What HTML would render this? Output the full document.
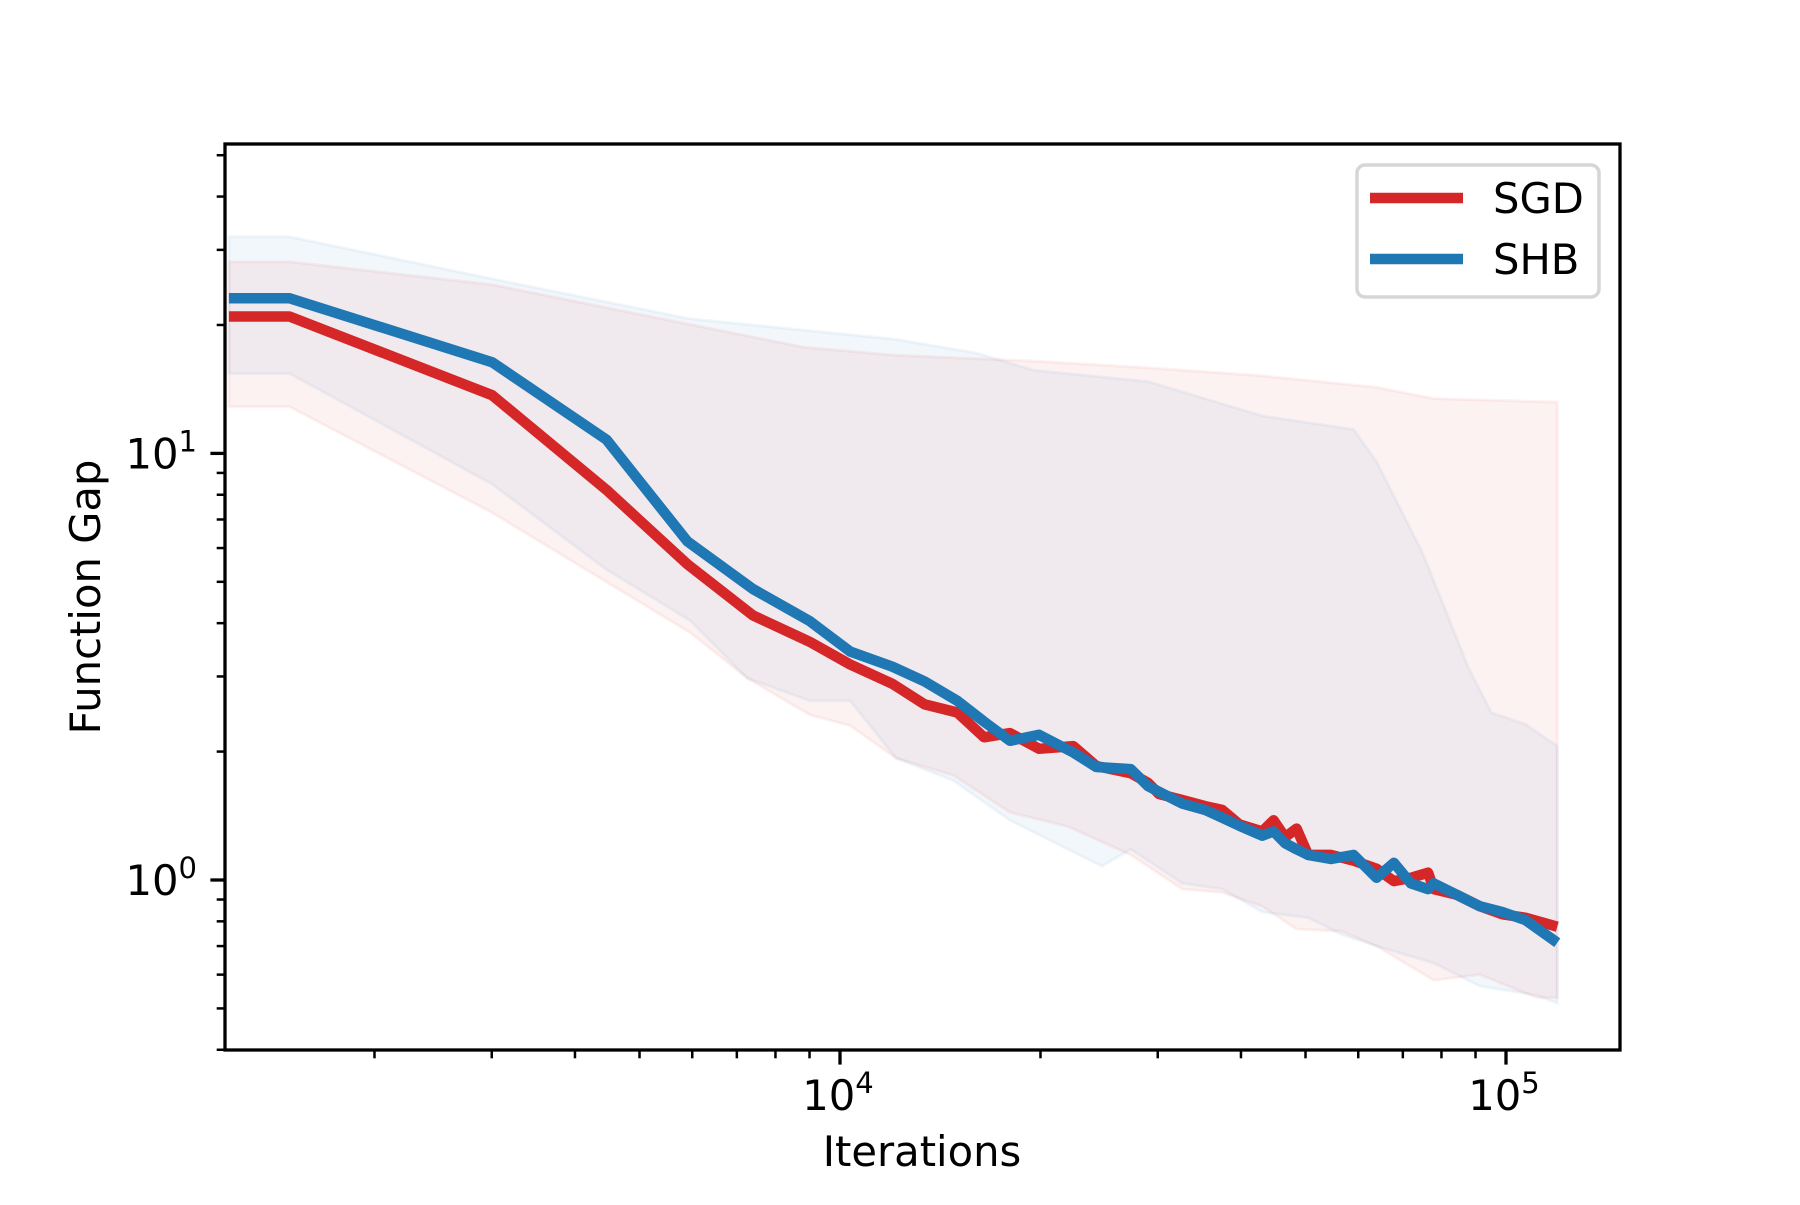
<!DOCTYPE html>
<html><head><meta charset="utf-8"><style>
html,body{margin:0;padding:0;background:#fff}
svg text{font-family:"DejaVu Sans","Liberation Sans",sans-serif;fill:#000}
</style></head><body>
<svg id="chart" width="1800" height="1200" viewBox="0 0 1800 1200" xmlns="http://www.w3.org/2000/svg">
<rect width="1800" height="1200" fill="#fff"/>
<defs><clipPath id="clip"><rect x="225" y="144" width="1395" height="906"/></clipPath></defs>
<g id="bands" clip-path="url(#clip)"></g>
<g id="lines" clip-path="url(#clip)"></g>
<g id="axes"></g>
<text x="922" y="1166" font-size="41.7" text-anchor="middle">Iterations</text>
<text transform="translate(100,597) rotate(-90)" font-size="41.7" text-anchor="middle">Function Gap</text>
<g>
<rect x="1357" y="165" width="242" height="132" rx="8" fill="#fff" fill-opacity="0.8" stroke="#d6d6d6" stroke-width="3.5"/>
<line x1="1370" y1="198" x2="1463" y2="198" stroke="#d62728" stroke-width="10.5"/>
<text x="1493" y="213" font-size="41.7">SGD</text>
<line x1="1370" y1="259" x2="1463" y2="259" stroke="#1f77b4" stroke-width="10.5"/>
<text x="1493" y="274" font-size="41.7">SHB</text>
</g>
</svg>
<script>
const iters = [1209,1491,3004,4461,5900,7400,9000,10360,12000,13400,15000,16460,18000,19900,22400,24260,27320,29000,30140,32650,35320,37490,39790,43050,44780,46590,48480,50450,54600,59050,63900,67860,71980,76380,77900,84370,91300,98800,106900,119400];
const sgdGap = [20.94,20.94,13.69,8.21,5.50,4.17,3.62,3.20,2.88,2.58,2.47,2.16,2.21,2.03,2.06,1.85,1.78,1.69,1.59,1.54,1.49,1.46,1.35,1.30,1.38,1.26,1.32,1.145,1.145,1.11,1.063,0.994,1.012,1.04,0.952,0.923,0.868,0.831,0.816,0.777];
const shbGap = [23.1,23.1,16.36,10.77,6.22,4.81,4.05,3.43,3.16,2.92,2.63,2.35,2.12,2.19,1.99,1.84,1.82,1.66,1.61,1.51,1.46,1.40,1.34,1.27,1.30,1.22,1.18,1.145,1.12,1.145,1.012,1.097,0.982,0.952,0.982,0.923,0.868,0.841,0.806,0.713];
const sgdUpX = [1209,1491,3004,5960,8846,12140,19500,29000,43050,63900,77900,119400];
const sgdUpY = [28.13,28.13,24.87,20.05,17.73,16.98,16.47,15.87,15.20,14.29,13.44,13.19];
const sgdLoX = [1209,1491,3004,5960,7260,9000,10360,12140,14790,18000,21980,27320,32650,37490,43050,48480,56750,63900,77900,91300,111200,119400];
const sgdLoY = [12.87,12.87,7.26,3.80,2.97,2.44,2.30,1.93,1.76,1.44,1.335,1.145,0.952,0.935,0.868,0.767,0.758,0.70,0.582,0.600,0.530,0.530];
const shbUpX = [1209,1491,3004,5960,8846,12140,16020,19500,29000,43050,59050,63900,69180,74930,81100,87720,95000,106900,119400];
const shbUpY = [32.2,32.2,25.66,20.68,19.45,18.51,17.19,15.68,14.74,12.25,11.38,9.58,7.49,5.85,4.30,3.16,2.47,2.32,2.06];
const shbLoX = [1209,1491,3004,4461,5960,7260,9000,10360,12140,14790,18000,21980,24750,27320,32650,37490,43050,50450,56750,63900,77900,91300,111200,119400];
const shbLoY = [15.39,15.39,8.47,5.34,4.05,2.97,2.63,2.63,1.93,1.71,1.38,1.18,1.077,1.18,0.982,0.952,0.841,0.816,0.744,0.70,0.638,0.564,0.537,0.514];
const xMajor = [10000,100000];
const xMajorLabels = ["4","5"];
const yMajor = [1,10];
const yMajorLabels = ["0","1"];

const NS = "http://www.w3.org/2000/svg";
const X0 = 225, X1 = 1620, Y0 = 144, Y1 = 1050;
function sx(v){ return 840 + 666 * (Math.log10(v) - 4); }
function sy(v){ return 880 - 426.6 * Math.log10(v); }
function mk(tag, attrs, parent){ const e = document.createElementNS(NS, tag); for (const k in attrs) e.setAttribute(k, attrs[k]); parent.appendChild(e); return e; }
function pts(xs, ys){ return xs.map((x,i)=>sx(x).toFixed(1)+","+sy(ys[i]).toFixed(1)).join(" "); }

const bands = document.getElementById("bands");
function band(ux, uy, lx, ly, color, name){
  const up = pts(ux, uy);
  const lo = lx.map((x,i)=>sx(x).toFixed(1)+","+sy(ly[i]).toFixed(1)).reverse().join(" ");
  const p = mk("polygon", {points: up+" "+lo, fill: color, "fill-opacity": "0.06", stroke: color, "stroke-opacity": "0.06", "stroke-width": "3"}, bands);
  
  
}
band(sgdUpX, sgdUpY, sgdLoX, sgdLoY, "#d62728", "sgd-band");
band(shbUpX, shbUpY, shbLoX, shbLoY, "#1f77b4", "shb-band");

const lines = document.getElementById("lines");
const l1 = mk("polyline", {points: pts(iters, sgdGap), fill: "none", stroke: "#d62728", "stroke-width": "10.5", "stroke-linejoin": "round"}, lines);


const l2 = mk("polyline", {points: pts(iters, shbGap), fill: "none", stroke: "#1f77b4", "stroke-width": "10.5", "stroke-linejoin": "round"}, lines);



const axes = document.getElementById("axes");
const frame = mk("rect", {x: X0, y: Y0, width: X1-X0, height: Y1-Y0, fill: "none", stroke: "#000", "stroke-width": "3.3"}, axes);



for (let d = 1000; d <= 100000; d *= 10) {
  for (let m = 1; m <= 9; m++) {
    const v = d * m, px = sx(v);
    if (px < X0 - 0.5 || px > X1 + 0.5) continue;
    const major = m === 1;
    const t = mk("line", {x1: px, y1: Y1, x2: px, y2: Y1 + (major ? 14.6 : 8.3), stroke: "#000", "stroke-width": major ? 3.3 : 2.5}, axes);
    
    
  }
}
xMajor.forEach((v,i)=>{
  const t = mk("text", {x: sx(v) - 2, y: 1110, "font-size": "41.7", "text-anchor": "middle"}, axes);
  
  
  t.textContent = "10";
  const s = mk("tspan", {"font-size": "29", dy: "-17"}, t);
  s.textContent = xMajorLabels[i];
});
for (let d = 0.1; d <= 10.01; d *= 10) {
  for (let m = 1; m <= 9; m++) {
    const v = d * m, py = sy(v);
    if (py < Y0 - 0.5 || py > Y1 + 0.5) continue;
    const major = m === 1;
    const t = mk("line", {x1: X0, y1: py, x2: X0 - (major ? 14.6 : 8.3), y2: py, stroke: "#000", "stroke-width": major ? 3.3 : 2.5}, axes);
    
    
  }
}
yMajor.forEach((v,i)=>{
  const t = mk("text", {x: 197, y: sy(v) + 15, "font-size": "41.7", "text-anchor": "end"}, axes);
  
  
  t.textContent = "10";
  const s = mk("tspan", {"font-size": "29", dy: "-17"}, t);
  s.textContent = yMajorLabels[i];
});
</script>
</body></html>
